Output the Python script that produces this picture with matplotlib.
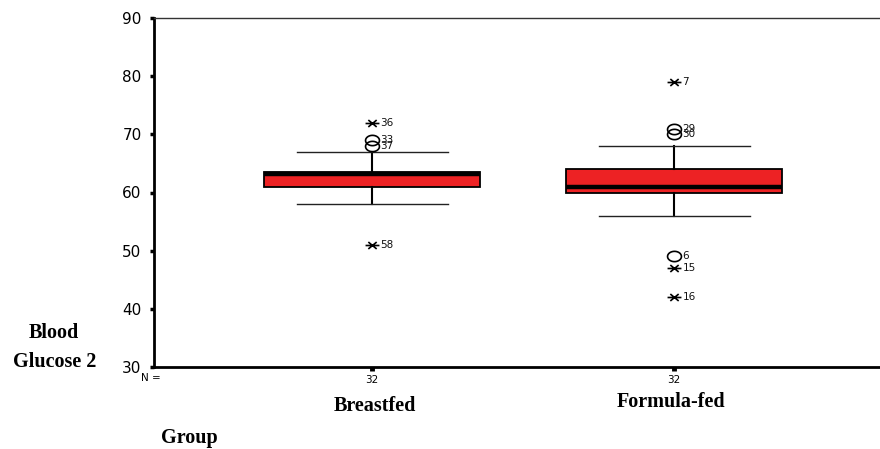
import matplotlib
matplotlib.use("Agg")
import matplotlib.pyplot as plt
from matplotlib.path import Path
import numpy as np

# ---- data ----
groups = ["Breastfed", "Formula-fed"]
n_counts = ["32", "32"]
q1 = [61, 60]
medians = [63.1, 61]
q3 = [63.5, 64]
whis_lo = [58, 56]
whis_hi = [67, 68]

bf_out_vals = [72, 69, 68, 51]
bf_out_ids = ["36", "33", "37", "58"]
bf_out_kind = ["extreme", "outlier", "outlier", "extreme"]

ff_out_vals = [79, 71, 70, 49, 47, 42]
ff_out_ids = ["7", "29", "30", "6", "15", "16"]
ff_out_kind = ["extreme", "outlier", "outlier", "outlier", "extreme", "extreme"]

y_ticks = [30, 40, 50, 60, 70, 80, 90]
y_label_lines = ["Blood", "Glucose 2"]
x_title = "Group"

# ---- figure ----
W, H = 880, 449
fig = plt.figure(figsize=(W / 100, H / 100), dpi=100)
ax = fig.add_axes([154 / W, (H - 367) / H, 1 - 154 / W, (367 - 18) / H])

positions = [1, 2]
stats = []
for i in range(2):
    stats.append(dict(med=medians[i], q1=q1[i], q3=q3[i],
                      whislo=whis_lo[i], whishi=whis_hi[i], fliers=[]))

ax.bxp(stats, positions=positions, widths=0.715, capwidths=0.5,
       patch_artist=True, showfliers=False,
       boxprops=dict(facecolor="#ED2224", edgecolor="black", linewidth=1.3),
       medianprops=dict(color="black", linewidth=3.2),
       whiskerprops=dict(color="black", linewidth=1.5),
       capprops=dict(color="#222222", linewidth=1.0))

# custom markers
t = np.linspace(0, 2 * np.pi, 60)
ellipse = Path(np.column_stack([1.35 * np.cos(t), np.sin(t)]), closed=True)
star_verts = [(-1, 0), (1, 0), (-0.6, -0.5), (0.6, 0.5), (-0.6, 0.5), (0.6, -0.5)]
star_codes = [Path.MOVETO, Path.LINETO] * 3
star = Path(star_verts, star_codes)

for pos, vals, ids, kinds in [(1, bf_out_vals, bf_out_ids, bf_out_kind),
                              (2, ff_out_vals, ff_out_ids, ff_out_kind)]:
    for v, lab, k in zip(vals, ids, kinds):
        if k == "outlier":
            ax.plot([pos], [v], marker=ellipse, markersize=10, linestyle="none",
                    markerfacecolor="none", markeredgecolor="black",
                    markeredgewidth=1.2, clip_on=False)
        else:
            ax.plot([pos], [v], marker=star, markersize=10, linestyle="none",
                    markeredgecolor="black", markeredgewidth=1.2, clip_on=False)
        ax.annotate(lab, (pos, v), xytext=(6, 0), textcoords="offset points",
                    ha="left", va="center", fontsize=7.5, color="#111111",
                    family="DejaVu Sans")

# axes styling
ax.set_xlim(0.278, 2.682)
ax.set_ylim(30, 90)
ax.set_yticks(y_ticks)
ax.set_yticklabels([str(v) for v in y_ticks], fontsize=11, family="DejaVu Sans")
ax.set_xticks(positions)
ax.set_xticklabels(n_counts, fontsize=7.5, family="DejaVu Sans")
ax.tick_params(axis="y", direction="out", length=3, width=2.5, pad=6)
ax.tick_params(axis="x", direction="out", length=3, width=3.5, pad=3)
ax.spines["right"].set_visible(False)
ax.spines["left"].set_linewidth(2)
ax.spines["bottom"].set_linewidth(2)
ax.spines["top"].set_linewidth(1)
ax.spines["top"].set_color("#333333")


def fx(x):
    return x / W


def fy(y):
    return 1 - y / H


serif = dict(family="Liberation Serif", fontweight="bold", fontsize=14.5)
fig.text(fx(151), fy(378), "N =", ha="center", va="center", fontsize=7.5,
         family="DejaVu Sans")
fig.text(fx(375), fy(411), groups[0], ha="center", va="baseline", **serif)
fig.text(fx(670.5), fy(407), groups[1], ha="center", va="baseline", **serif)
fig.text(fx(189), fy(443), x_title, ha="center", va="baseline", **serif)
fig.text(fx(54), fy(338), y_label_lines[0], ha="center", va="baseline", **serif)
fig.text(fx(54.5), fy(367), y_label_lines[1], ha="center", va="baseline", **serif)

fig.savefig("out.png", dpi=100)
